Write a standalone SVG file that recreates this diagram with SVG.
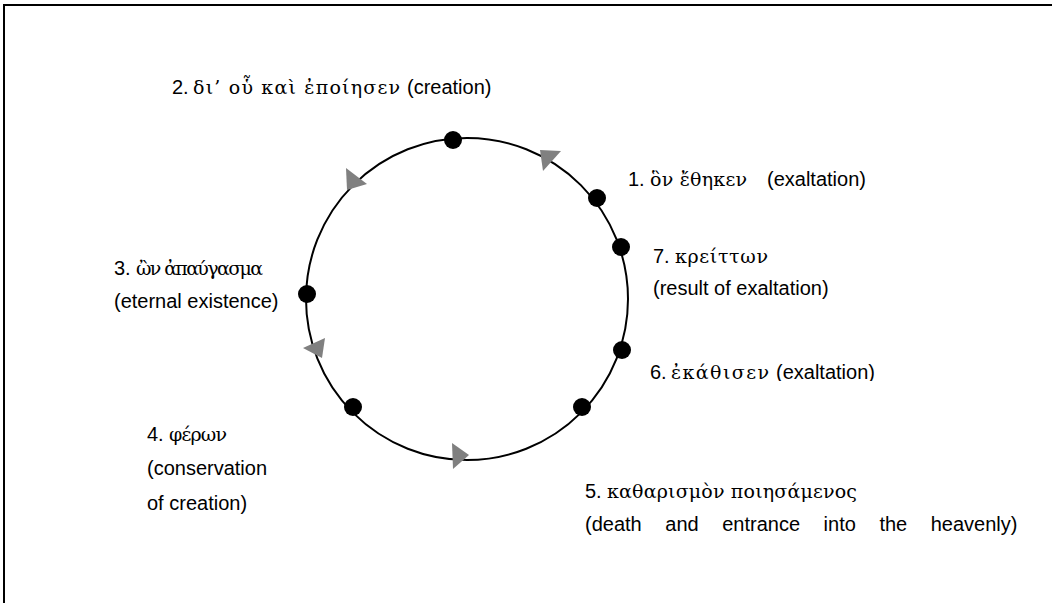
<svg xmlns="http://www.w3.org/2000/svg" width="1052" height="603" viewBox="0 0 1052 603">
<defs>
<style>
.lat{font-family:"Liberation Sans",Arial,sans-serif;font-size:20px;fill:#000}
.grk{font-family:"DejaVu Serif","Liberation Serif",serif;font-size:19px;fill:#000}
.dot{fill:#000}
.arr{fill:#808080}
.frame{stroke:#000;stroke-width:2;fill:none}
</style>
<clipPath id="clip6"><rect x="600" y="340" width="400" height="41"/></clipPath>
</defs>
<rect width="1052" height="603" fill="#fff"/>
<path class="frame" d="M4,603 V5 H1052"/>
<g id="connectors">
<circle cx="467" cy="299" r="161" fill="none" stroke="#000" stroke-width="2"/>
<polygon class="arr" points="540,150 561,151 543,171"/>
<polygon class="arr" points="346,168 367,184 347,190"/>
<polygon class="arr" points="303,348 325,338 322,358"/>
<polygon class="arr" points="452,443 469,455 453,469"/>
</g>
<g id="node1"><circle class="dot" cx="597" cy="198" r="9"/><text class="lat" x="628" y="186">1.</text><text class="grk" x="650" y="186" textLength="97" lengthAdjust="spacing">ὃν ἔθηκεν</text><text class="lat" x="767" y="186">(exaltation)</text></g>
<g id="node2"><circle class="dot" cx="453" cy="140" r="9"/><text class="lat" x="172" y="94">2.</text><text class="grk" x="193" y="94" textLength="207" lengthAdjust="spacing">δι’ οὗ καὶ ἐποίησεν</text><text class="lat" x="407" y="94">(creation)</text></g>
<g id="node3"><circle class="dot" cx="307" cy="294" r="9"/><text class="lat" x="114" y="275">3.</text><text class="grk" x="136" y="275" textLength="127" lengthAdjust="spacing">ὢν ἀπαύγασμα</text><text class="lat" x="114" y="308">(eternal existence)</text></g>
<g id="node4"><circle class="dot" cx="353" cy="407" r="9"/><text class="lat" x="147" y="441">4.</text><text class="grk" x="169" y="441" textLength="58" lengthAdjust="spacing">φέρων</text><text class="lat" x="147" y="475">(conservation</text><text class="lat" x="147" y="510">of creation)</text></g>
<g id="node5"><circle class="dot" cx="582" cy="407" r="9"/><text class="lat" x="585" y="498">5.</text><text class="grk" x="607" y="498" textLength="250" lengthAdjust="spacing">καθαρισμὸν  ποιησάμενος</text><text class="lat" x="585" y="531" word-spacing="18">(death and entrance into the heavenly)</text></g>
<g id="node6"><circle class="dot" cx="622" cy="350" r="9"/><g clip-path="url(#clip6)"><text class="lat" x="650" y="379">6.</text><text class="grk" x="671" y="379" textLength="98" lengthAdjust="spacing">ἐκάθισεν</text><text class="lat" x="776" y="379">(exaltation)</text></g></g>
<g id="node7"><circle class="dot" cx="621" cy="247" r="9"/><text class="lat" x="653" y="263">7.</text><text class="grk" x="675" y="263" textLength="93" lengthAdjust="spacing">κρείττων</text><text class="lat" x="653" y="295">(result of exaltation)</text></g>
</svg>
